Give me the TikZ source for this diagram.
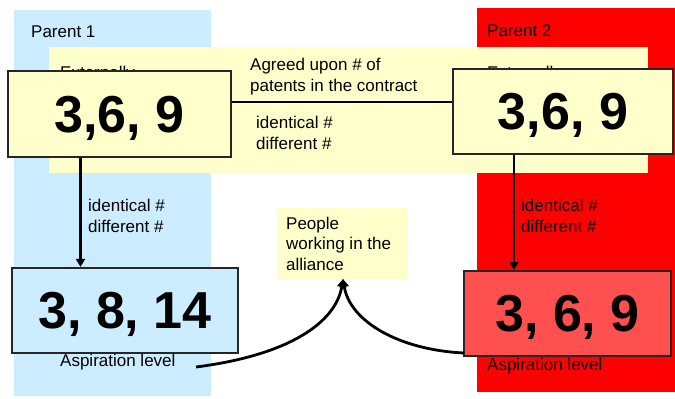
\documentclass[tikz,border=0pt]{standalone}
\usepackage{fontspec}
\setmainfont{Liberation Sans}
\usetikzlibrary{arrows.meta,calc}
\definecolor{paleblue}{RGB}{204,236,255}
\definecolor{paleyellow}{RGB}{255,255,204}
\definecolor{boxred}{RGB}{255,80,80}
\tikzset{
  x=1pt, y=-1pt,
  % multi-line labels are placed by the baseline of their last line
  lbl/.style={inner sep=0pt, anchor=base west, align=left,
    font=\fontsize{17}{20.5}\selectfont},
  numbox/.style={draw=black!85, line width=2.2pt, inner sep=0pt, text depth=0pt,
    font=\fontsize{52}{60}\selectfont\bfseries},
  link/.style={line width=2.8pt, black},
  arr/.style={link, -{Triangle[length=8pt,width=9pt]}}
}
\begin{document}
\begin{tikzpicture}
\useasboundingbox (0,0) rectangle (675,399);
% parent columns and the shared contract band
\fill[paleblue] (14,10) rectangle (211,396);
\fill[red] (477,8) rectangle (675,392);
\fill[paleyellow] (49,47) rectangle (648,173);
\fill[paleyellow] (277,208) rectangle (407,279);
\coordinate (peopletip) at (343,279);

% labels
\node[lbl] (p1) at (31,37) {Parent 1};
\node[lbl] (p2) at (487,36) {Parent 2};
\node[lbl] (ext1) at (60,78) {Externally};
\node[lbl] (ext2) at (487,78) {Externally};
\node[lbl] (agreed) at (250,91) {Agreed upon \# of\\patents in the contract};
\node[lbl] (idmid) at (256,149) {identical \#\\different \#};
\node[lbl] (idleft) at (88,232) {identical \#\\different \#};
\node[lbl] (idright) at (521,232) {identical \#\\different \#};
\node[lbl] (people) at (286,270) {People\\working in the\\alliance};
\node[lbl] (asp1) at (60,366) {Aspiration level};
\node[lbl] (asp2) at (487,370) {Aspiration level};

% number boxes
\node[numbox, fill=paleyellow, minimum width=223pt, minimum height=86pt] (lt) at (119.5,114) {3,6, 9};
\node[numbox, fill=paleyellow, minimum width=220pt, minimum height=85pt] (rt) at (563,111.5) {3,6, 9};
\node[numbox, fill=paleblue, minimum width=226pt, minimum height=85pt] (lb) at (125,310.5) {3, 8, 14};
\node[numbox, fill=boxred, minimum width=207pt, minimum height=85pt] (rb) at (567.5,313.5) {3, 6, 9};

% connectors
\draw[link] (lt.east |- 0,102) -- (rt.west |- 0,102);
\draw[arr] (80.5,0 |- lt.south) -- (80.5,0 |- lb.north);
\draw[arr] (514,0 |- rt.south) -- (514,0 |- rb.north);
\coordinate (aspend) at (196,367);
\coordinate (rbend) at (464,353);
\draw[arr] (aspend) .. controls (290,355) and (336,322) .. (peopletip);
\draw[arr] (rbend) .. controls (400,350) and (350,322) .. (peopletip);
\end{tikzpicture}
\end{document}
